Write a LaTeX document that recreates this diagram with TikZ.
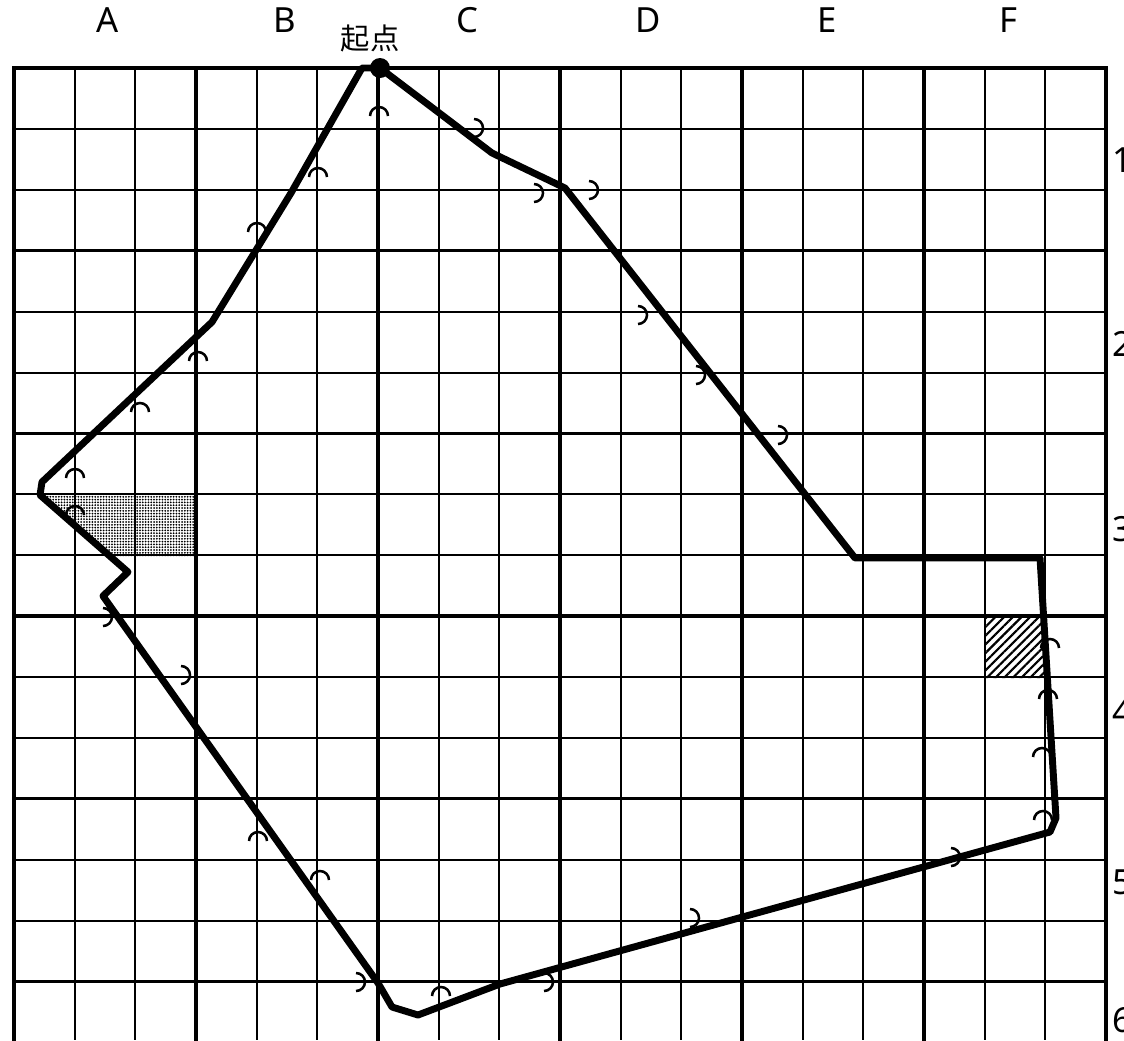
\documentclass[tikz,border=0pt]{standalone}
\usepackage{fontspec}
\setmainfont{Noto Sans}
\newfontfamily\cjk{Noto Sans CJK SC}
\usetikzlibrary{patterns.meta}
\begin{document}
\begin{tikzpicture}[x=0.75pt,y=-0.75pt,
 gridthin/.style={line width=1.5pt},
 gridthick/.style={line width=2.5pt,line cap=rect},
 route/.style={line width=5.2pt,line join=round},
 marker/.style={line width=1.9pt},
 lbl/.style={font=\fontsize{26}{30}\selectfont, inner sep=0pt},
 capu/.pic={\draw[marker] (-9,0) arc[start angle=180,end angle=360,radius=9];},
 capr/.pic={\draw[marker] (0,-9) arc[start angle=270,end angle=450,radius=9];}]
\useasboundingbox (0,0) rectangle (1124,1040);
\fill[white] (0,0) rectangle (1124,1040);
% shaded cells
\fill[pattern={Dots[distance=2.1pt,radius=0.75pt]}] (40,495) -- (196,495) -- (196,556) -- (110,556) -- cycle;
\fill[pattern={Lines[angle=45,distance=4.6pt,line width=1.6pt]}] (986,617) -- (1043,617) -- (1046,678) -- (986,678) -- cycle;
% grid
\foreach \i in {0,...,18} \draw[gridthin] ({14+\i*60.667},68) -- ({14+\i*60.667},1040);
\foreach \j in {0,...,16} \draw[gridthin] (14,{68+\j*60.9}) -- (1106,{68+\j*60.9});
\foreach \i in {0,3,...,18} \draw[gridthick] ({14+\i*60.667},68) -- ({14+\i*60.667},1040);
\foreach \j in {0,3,...,15} \draw[gridthick] (14,{68+\j*60.9}) -- (1106,{68+\j*60.9});
% route
\coordinate (s0) at (362,68);
\coordinate (s) at (380,68);
\coordinate (p1) at (492,153);
\coordinate (p2) at (565,188);
\coordinate (p3) at (855,558);
\coordinate (p4) at (1040,558);
\coordinate (p5) at (1056,818);
\coordinate (p6) at (1050,832);
\coordinate (p7) at (500,984);
\coordinate (p8) at (418,1015);
\coordinate (p9) at (392,1007);
\coordinate (p10) at (378,983);
\coordinate (p11) at (103,596);
\coordinate (p12) at (128,572);
\coordinate (p13) at (40,495);
\coordinate (p14) at (42,482);
\coordinate (p15) at (212,322);
\coordinate (p16) at (291,193);
\draw[route] (s) -- (p1) -- (p2) -- (p3) -- (p4) -- (p5) -- (p6) -- (p7) -- (p8) -- (p9) -- (p10) -- (p11) -- (p12) -- (p13) -- (p14) -- (p15) -- (p16) -- (s0) -- (s);
\fill (s) circle[radius=10];
% direction marks
\foreach \p in {(379,116),(1050,648),(1048,699),(1042,757),(1043,820),(441,996),(258,841),(320,880),(75,478),(75,515),(140,412),(198,361),(257,232),(318,177)}
  \pic at \p {capu};
\foreach \p in {(474,128),(534,193),(589,190),(638,315),(696,375),(778,435),(951,857),(690,918),(356,982),(544,982),(181,675),(103,617)}
  \pic at \p {capr};
% labels
\node[lbl] (la) at (108,20) {A};
\node[lbl] (lb) at (285,20) {B};
\node[lbl] (lc) at (467,20) {C};
\node[lbl] (ld) at (648,20) {D};
\node[lbl] (le) at (827,20) {E};
\node[lbl] (lf) at (1008,20) {F};
\node[font=\cjk\fontsize{22}{26}\selectfont, inner sep=0pt] (start) at (370,38) {起点};
\node[lbl,anchor=west] (r1) at (1112,160) {1};
\node[lbl,anchor=west] (r2) at (1112,344) {2};
\node[lbl,anchor=west] (r3) at (1112,529) {3};
\node[lbl,anchor=west] (r4) at (1112,712) {4};
\node[lbl,anchor=west] (r5) at (1112,882) {5};
\node[lbl,anchor=west] (r6) at (1112,1020) {6};
\end{tikzpicture}
\end{document}
